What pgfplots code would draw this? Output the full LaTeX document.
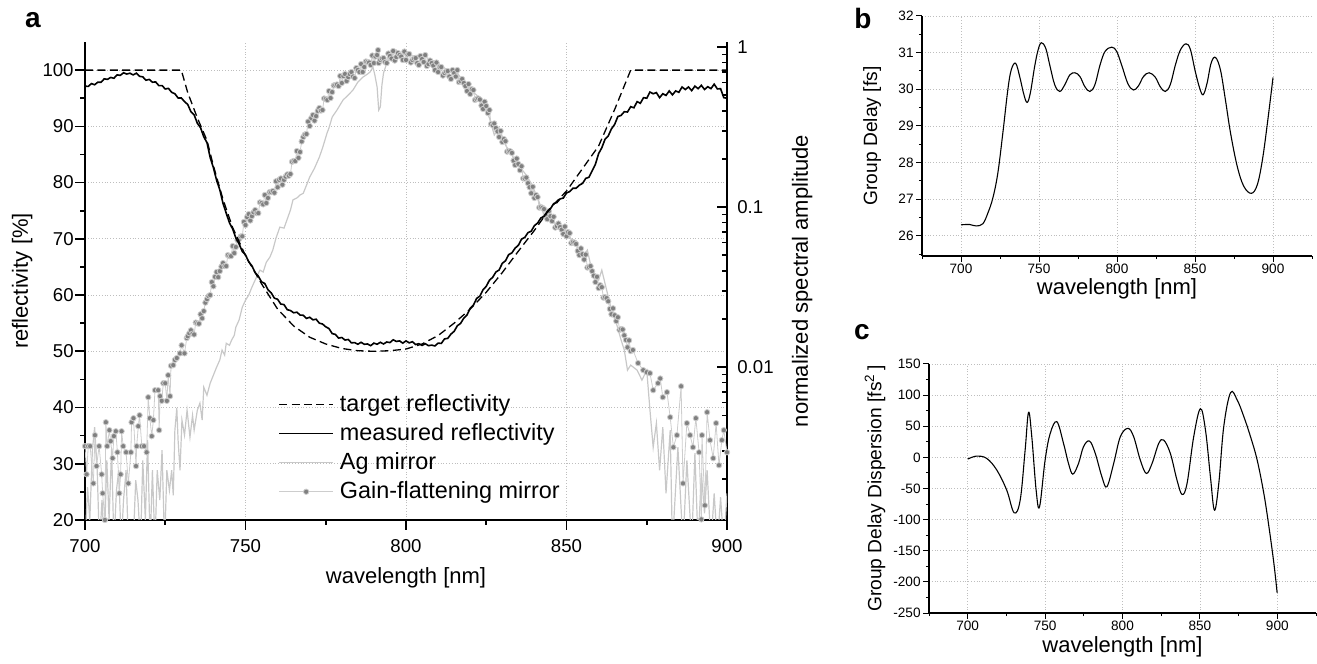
\documentclass[border=0pt]{standalone}
\usepackage{fontspec}
\setmainfont{Liberation Sans}
\usepackage{pgfplots}
\pgfplotsset{compat=1.18}

\definecolor{agc}{RGB}{200,200,200}
\definecolor{gfdot}{RGB}{128,128,128}
\definecolor{gfline}{RGB}{205,205,205}
\definecolor{gridc}{RGB}{190,190,190}

\pgfplotsset{
  /pgf/number format/assume math mode=true,
  agstyle/.style={color=agc, line width=0.6pt, mark=none},
  gfstyle/.style={color=gfline, line width=0.4pt, mark=*, mark size=1.35pt,
    mark options={draw=none, fill=gfdot},
    legend image code/.code={
      \draw[mark repeat=2, mark phase=2, ##1] plot coordinates {(0pt,0pt) (13.5pt,0pt) (27pt,0pt)};}},
  panel/.style={
    scale only axis, anchor=south west,
    xmin=675, xmax=925,
    axis x line*=bottom, axis y line*=left,
    axis line style={line width=0.6pt, black},
    xtick={700,750,...,900}, minor xtick={675,725,...,925},
    tick align=outside, major tick length=3pt, minor tick length=1.6pt,
    tick style={line width=0.5pt, black},
    grid=major, major grid style={densely dotted, gridc, line width=0.4pt},
    tick label style={font=\fontsize{6.8}{8}\selectfont},
    xticklabel style={inner sep=1pt},
    yticklabel style={inner sep=1pt},
    xlabel style={font=\fontsize{11}{13}\selectfont, anchor=center},
    ylabel style={font=\fontsize{9.6}{11}\selectfont, anchor=center},
  },
}

\begin{document}
\begin{tikzpicture}
\path (0pt,0pt) rectangle (658.5pt,-331.5pt);

% ---- panel a, right axis: spectral amplitudes (log) ----
\begin{axis}[
  set layers,
  at={(42.5pt,-260pt)}, anchor=south west,
  scale only axis, width=321pt, height=239pt,
  xmin=700, xmax=900, ymode=log, ymin=0.00111, ymax=1.075,
  axis x line=none, axis y line*=right,
  axis line style={line width=1pt, black},
  ytick={0.01,0.1,1}, yticklabels={0.01,0.1,1},
  minor ytick={0.002,0.003,0.004,0.005,0.006,0.007,0.008,0.009,
               0.02,0.03,0.04,0.05,0.06,0.07,0.08,0.09,
               0.2,0.3,0.4,0.5,0.6,0.7,0.8,0.9},
  tick align=inside, major tick length=5pt, minor tick length=2.5pt,
  tick style={line width=0.8pt, black},
  yticklabel style={font=\fontsize{9.3}{11}\selectfont, inner sep=0pt, xshift=5pt},
  ylabel={normalized spectral amplitude},
  ylabel style={font=\fontsize{11}{13}\selectfont, at={(axis description cs:1.117,0.5)}, anchor=center},
]
% Ag mirror
\addplot[agstyle] coordinates {
(700.0,0.00077)(700.8,0.00178)(701.5,0.00111)(702.3,0.00303)(703.0,0.00422)(703.8,0.00227)
(704.5,0.00077)(705.3,0.00148)(706.0,0.00077)(706.8,0.00262)(707.5,0.00111)(708.3,0.00312)
(709.0,0.00077)(709.8,0.00170)(710.5,0.00227)(711.3,0.00077)(712.0,0.00148)(712.8,0.00227)
(713.5,0.00077)(714.3,0.00111)(715.0,0.00077)(715.8,0.00197)(716.5,0.00148)(717.3,0.00077)
(718.0,0.00262)(718.8,0.00111)(719.5,0.00350)(720.3,0.00077)(721.0,0.00227)(721.8,0.00077)
(722.5,0.00227)(723.3,0.00148)(724.0,0.00303)(724.8,0.00077)(725.5,0.00227)(726.3,0.00170)
(727.0,0.00227)(727.5,0.00158)(728.0,0.00404)(728.6,0.00555)(729.0,0.00350)(729.6,0.00227)
(730.2,0.00467)(731.0,0.00376)(731.8,0.00539)(732.7,0.00365)(733.5,0.00501)(734.0,0.00404)
(735.0,0.00539)(735.8,0.00596)(736.5,0.00467)(737.0,0.00750)(738.0,0.00668)(739.0,0.00794)
(740.0,0.00891)(741.0,0.0100)(742.0,0.0111)(742.7,0.0128)(743.5,0.0119)(744.0,0.0141)
(745.0,0.0137)(745.7,0.0148)(746.5,0.0158)(747.0,0.0178)(748.0,0.0197)(749.0,0.0237)
(750.0,0.0262)(751.0,0.0282)(752.0,0.0316)(753.0,0.0350)(754.5,0.0404)(755.5,0.0393)
(756.5,0.0453)(757.6,0.0487)(758.5,0.0539)(759.5,0.0640)(760.7,0.0750)(762.0,0.0739)
(762.9,0.0830)(764.0,0.0958)(764.8,0.111)(766.0,0.114)(767.0,0.119)(768.0,0.122)
(769.0,0.137)(770.0,0.154)(771.5,0.175)(773.0,0.205)(774.0,0.234)(775.4,0.290)
(776.0,0.312)(777.0,0.365)(778.5,0.404)(780.4,0.467)(782.0,0.501)(783.5,0.539)
(785.0,0.604)(786.6,0.649)(788.0,0.678)(788.8,0.698)(789.7,0.750)(790.3,0.668)
(791.0,0.562)(791.5,0.404)(792.0,0.422)(792.5,0.579)(793.0,0.688)(794.0,0.794)
(795.0,0.853)(797.0,0.957)(798.5,0.891)(800.0,0.917)(802.0,0.879)(804.4,0.891)
(806.0,0.866)(808.0,0.830)(810.0,0.794)(812.0,0.739)(814.0,0.698)(816.0,0.688)
(818.0,0.604)(820.0,0.539)(822.0,0.501)(824.0,0.447)(826.0,0.360)(827.5,0.282)
(829.0,0.312)(831.0,0.244)(833.0,0.211)(835.0,0.183)(837.0,0.163)(839.0,0.141)
(841.0,0.114)(843.0,0.0891)(845.0,0.0853)(847.0,0.0772)(849.0,0.0739)(851.0,0.0649)
(853.0,0.0579)(855.0,0.0487)(856.5,0.0539)(858.0,0.0393)(860.0,0.0350)(861.0,0.0404)
(862.5,0.0303)(864.0,0.0227)(865.7,0.0183)(867.0,0.0148)(868.0,0.0128)(869.0,0.00958)
(870.0,0.0103)(872.0,0.00958)(873.5,0.0083)(875.0,0.00958)(876.0,0.00539)(877.0,0.00316)
(878.0,0.00447)(879.0,0.00227)(880.0,0.00422)(881.0,0.00163)(882.3,0.00404)(883.0,0.00077)
(884.7,0.00316)(886.3,0.00077)(887.5,0.00262)(889.0,0.00077)(890.0,0.00290)(891.0,0.00077)
(892.0,0.00218)(893.0,0.00122)(893.8,0.00227)(895.0,0.00077)(896.0,0.00163)(897.0,0.00077)
(898.0,0.00154)(899.0,0.00077)(900.0,0.00163)
};
% Gain-flattening mirror
\addplot[gfstyle] coordinates {
(700.0,0.00321)(700.5,0.00214)(701.0,0.00321)(701.6,0.00321)(702.6,0.00188)(703.1,0.00376)
(703.6,0.00241)(704.4,0.00321)(705.2,0.00214)(705.5,0.00163)(706.2,0.00111)(706.5,0.00453)
(706.9,0.00321)(707.6,0.00404)(708.0,0.00345)(708.6,0.00270)(709.0,0.00371)(709.6,0.00398)
(710.1,0.00294)(710.7,0.00163)(711.1,0.00214)(711.4,0.00398)(711.9,0.00321)(712.8,0.00294)
(713.5,0.00188)(714.3,0.00294)(714.5,0.00453)(715.1,0.00480)(715.9,0.00241)(716.1,0.00321)
(716.6,0.00428)(717.0,0.00501)(717.7,0.00321)(718.4,0.00321)(719.2,0.00294)(719.7,0.00649)
(720.2,0.00480)(720.8,0.00371)(721.3,0.00467)(721.8,0.00718)(722.8,0.00718)(723.1,0.00404)
(723.4,0.00659)(723.9,0.00616)(724.4,0.00794)(725.0,0.00794)(725.5,0.00616)(725.9,0.00891)
(726.5,0.00659)(726.8,0.0102)(727.5,0.0103)(728.0,0.0111)(728.6,0.0114)(729.6,0.0122)
(730.1,0.0137)(731.0,0.0122)(731.7,0.0152)
(732,0.0156)(732.5,0.0163)(733,0.0170)(733.5,0.0162)(734,0.0160)(734.5,0.0190)
(735,0.0188)(735.5,0.0187)(736,0.0214)(736.5,0.0202)(737,0.0224)(737.5,0.0253)
(738,0.0266)(738.5,0.0278)(739,0.0282)(739.5,0.0340)(740,0.0320)(740.5,0.0367)
(741,0.0393)(741.5,0.0365)(742,0.0398)(742.5,0.0425)(743,0.0447)(743.5,0.0428)
(744,0.0428)(744.5,0.0501)(745,0.0494)(745.5,0.0494)(746,0.0571)(746.5,0.0516)
(747,0.0563)(747.5,0.0622)(748,0.0631)(748.5,0.0655)(749,0.0657)(749.5,0.0808)
(750,0.0772)(750.5,0.0866)(751,0.0904)(751.5,0.0824)(752,0.0878)(752.5,0.0929)
(753,0.0958)(753.5,0.0917)(754,0.0917)(754.5,0.107)(755,0.106)(755.5,0.104)
(756,0.119)(756.5,0.106)(757,0.114)(757.5,0.124)(758,0.124)(758.5,0.126)
(759,0.123)(759.5,0.145)(760,0.133)(760.5,0.148)(761,0.151)(761.5,0.138)
(762,0.148)(762.5,0.155)(763,0.160)(763.5,0.157)(764,0.161)(764.5,0.192)
(765,0.194)(765.5,0.194)(766,0.224)(766.5,0.203)(767,0.221)(767.5,0.257)
(768,0.274)(768.5,0.284)(769,0.286)(769.5,0.342)(770,0.321)(770.5,0.360)
(771,0.376)(771.5,0.347)(772,0.370)(772.5,0.399)(773,0.416)(773.5,0.401)
(774,0.404)(774.5,0.477)(775,0.473)(775.5,0.467)(776,0.531)(776.5,0.480)
(777,0.523)(777.5,0.575)(778,0.579)(778.5,0.583)(779,0.570)(779.5,0.659)
(780,0.596)(780.5,0.659)(781,0.678)(781.5,0.613)(782,0.649)(782.5,0.678)
(783,0.698)(783.5,0.654)(784,0.640)(784.5,0.739)(785,0.718)(785.5,0.698)
(786,0.783)(786.5,0.698)(787,0.750)(787.5,0.812)(788,0.806)(788.5,0.800)
(789,0.772)(789.5,0.885)(790,0.794)(790.5,0.872)(791,0.891)(791.3,0.957)
(791.5,0.794)(792,0.830)(792.5,0.847)(793,0.853)(793.5,0.806)(794,0.794)
(794.5,0.911)(795,0.879)(795.5,0.847)(796,0.944)(796.5,0.823)(797,0.866)
(797.5,0.917)(798,0.891)(798.5,0.872)(799,0.830)(799.5,0.937)(800,0.830)
(800.5,0.898)(801,0.904)(801.5,0.800)(802,0.830)(802.5,0.847)(803,0.853)
(803.5,0.794)(804,0.772)(804.5,0.879)(805,0.841)(805.5,0.806)(806,0.891)
(806.5,0.761)(807,0.783)(807.5,0.823)(808,0.794)(808.5,0.766)(809,0.718)
(809.5,0.800)(810,0.698)(810.5,0.750)(811,0.750)(811.5,0.663)(812,0.688)
(812.5,0.703)(813,0.708)(813.5,0.654)(814,0.631)(814.5,0.718)(815,0.688)
(815.5,0.654)(816,0.718)(816.5,0.604)(817,0.613)(817.5,0.631)(818,0.596)
(818.5,0.570)(819,0.531)(819.5,0.587)(820,0.508)(820.5,0.545)(821,0.539)
(821.5,0.467)(822,0.473)(822.5,0.477)(823,0.470)(823.5,0.431)(824,0.410)
(824.5,0.455)(825,0.428)(825.5,0.387)(826,0.404)(826.5,0.330)(827,0.325)
(827.5,0.333)(828,0.312)(828.5,0.297)(829,0.274)(829.5,0.299)(830,0.255)
(830.5,0.266)(831,0.258)(831.5,0.222)(832,0.224)(832.5,0.223)(833,0.218)
(833.5,0.195)(834,0.183)(834.5,0.201)(835,0.186)(835.5,0.170)(836,0.180)
(836.5,0.151)(837,0.151)(837.5,0.153)(838,0.141)(838.5,0.133)(839,0.122)
(839.5,0.134)(840,0.114)(840.5,0.119)(841,0.1155)(841.5,0.0993)(842,0.0999)
(842.5,0.099)(843,0.0972)(843.5,0.0884)(844,0.0841)(844.5,0.0943)(845,0.0878)
(845.5,0.0818)(846,0.087)(846.5,0.0745)(847,0.0761)(847.5,0.0790)(848,0.0750)
(848.5,0.0723)(849,0.0679)(849.5,0.0756)(850,0.0657)(850.5,0.0698)(851,0.0688)
(851.5,0.0596)(852,0.0604)(852.5,0.0600)(853,0.0588)(853.5,0.0532)(854,0.0501)
(854.5,0.0552)(855,0.0508)(855.5,0.0470)(856,0.0505)(856.5,0.0419)(857,0.0422)
(857.5,0.0428)(858,0.0398)(858.5,0.0373)(859,0.0340)(859.5,0.0367)(860,0.0312)
(860.5,0.0325)(861,0.0316)(861.5,0.0272)(862,0.0274)(862.5,0.0270)(863,0.0258)
(863.5,0.0231)(864,0.0214)(864.5,0.0233)(865,0.0211)(865.5,0.0194)(866,0.0205)
(866.5,0.0171)(867,0.0173)(867.5,0.0172)(868,0.0158)(868.5,0.0148)(869,0.0133)
(869.5,0.0147)(870,0.0126)
(870.7,0.0128)(872.3,0.0106)(873.9,0.00958)(875,0.0093)(876,0.00917)(877,0.00718)
(878.5,0.00794)(879.2,0.0085)(880,0.00649)(881.3,0.00698)(882.3,0.00487)(883.3,0.00316)
(884.4,0.00376)(885.7,0.00760)(886.3,0.00188)(887.5,0.00447)(888.5,0.00376)(889.4,0.00316)
(890.3,0.00480)(891.3,0.00294)(892.0,0.00112)(892.2,0.00376)(893.1,0.00137)(893.8,0.00523)
(894.7,0.00350)(895.7,0.00270)(896.6,0.00447)(897.5,0.00244)(898.4,0.00350)(899,0.00404)
(900,0.00294)
};
\end{axis}

% ---- panel a, left axis: reflectivity ----
\begin{axis}[
  set layers,
  at={(42.5pt,-260pt)}, anchor=south west,
  scale only axis, width=321pt, height=239pt,
  xmin=700, xmax=900, ymin=20, ymax=105,
  axis x line*=bottom, axis y line*=left,
  axis line style={line width=1pt, black},
  xtick={700,750,...,900}, ytick={20,30,...,100},
  minor x tick num=1, minor y tick num=1,
  tick align=outside, major tick length=5pt, minor tick length=2.5pt,
  tick style={line width=0.8pt, black},
  grid=major, major grid style={densely dotted, gridc, line width=0.4pt},
  tick label style={font=\fontsize{9.3}{11}\selectfont},
  xticklabel style={inner sep=0pt, yshift=-4.5pt},
  yticklabel style={inner sep=0pt, xshift=-0.5pt},
  xlabel={wavelength [nm]}, ylabel={reflectivity [\%]},
  xlabel style={font=\fontsize{11}{13}\selectfont, at={(axis description cs:0.5,-0.121)}, anchor=center},
  ylabel style={font=\fontsize{11}{13}\selectfont, at={(axis description cs:-0.098,0.5)}, anchor=center},
  legend cell align=left,
  legend image code/.code={\draw[#1] (0pt,0pt) -- (27pt,0pt);},
  legend style={at={(rel axis cs:0.3006,0.268)}, anchor=north west, draw=none, fill=none,
    inner sep=0pt, row sep=2.6pt, font=\fontsize{11.7}{13}\selectfont,
    nodes={inner xsep=3pt, inner ysep=1pt}},
]
% target reflectivity
\addplot[black, line width=0.65pt, dash pattern=on 4pt off 2.2pt] coordinates {
(700,100)(730,100)(732,96)(735,91.5)(738,87.5)(740,83)(743,77)(746,72)(750,67)
(755,62)(760,57.5)(765,54.5)(770,52.5)(775,51.3)(780,50.5)(785,50.1)(790,50)
(795,50.1)(800,50.4)(805,51.3)(810,52.8)(815,55)(820,57.5)(825,60.5)(830,64)
(835,67.8)(840,71.5)(845,75.5)(850,78.5)(855,82.5)(860,86.5)(865,93)(870,100)(900,100)
};
% measured reflectivity
\addplot[black, line width=0.8pt] coordinates {
(700,97.15)(701,97.1)(702,97.6)(703,97.4)(704,97.85)(705,97.85)(706,98.45)(707,98.35)(708,98.7)(709,98.55)
(710,99.15)(711,99.07)(712,99.53)(713,99.3)(714,99.45)(715,99.15)(716,99.45)(717,98.9)(718,98.8)(719,98.2)
(720,98.35)(721,97.85)(722,97.9)(723,97.25)(724,97.25)(725,96.65)(726,96.75)(727,96.05)(728,95.8)(729,95.05)
(730,95.05)(731,94.4)(732,93.9)(733,92.6)(734,92.05)(735,90.55)(736,89.75)(737,88.15)(738,87.1)(739,84.45)
(740,82.65)(741,80.4)(742,78.7)(743,76.3)(744,74.55)(745,72.85)(746,71.75)(747,70.15)(748,69.1)(749,67.75)
(750,67.15)(751,65.9)(752,65.2)(753,64.0)(754,63.35)(755,62.35)(756,62.05)(757,60.95)(758,60.4)(759,59.45)
(760,59.25)(761,58.4)(762,58.3)(763,57.4)(764,57.25)(765,56.85)(766,56.95)(767,56.45)(768,56.4)(769,55.85)
(770,56.05)(771,55.6)(772,55.7)(773,55.0)(774,54.85)(775,54.35)(776,54.05)(777,53.15)(778,53.0)(779,52.35)
(780,52.45)(781,52.0)(782,52.1)(783,51.5)(784,51.55)(785,51.25)(786,51.6)(787,51.25)(788,51.3)(789,51.0)
(790,51.45)(791,51.25)(792,51.6)(793,51.3)(794,51.65)(795,51.55)(796,52.05)(797,51.75)(798,51.85)(799,51.45)
(800,51.85)(801,51.5)(802,51.7)(803,51.2)(804,51.35)(805,51.05)(806,51.35)(807,51.0)(808,51.1)(809,50.95)
(810,51.45)(811,51.4)(812,52.2)(813,52.3)(814,53.05)(815,53.55)(816,54.55)(817,54.95)(818,55.9)(819,56.45)
(820,57.65)(821,58.2)(822,59.4)(823,59.8)(824,60.95)(825,61.55)(826,62.65)(827,63.15)(828,64.1)(829,64.45)
(830,65.65)(831,66.1)(832,67.2)(833,67.5)(834,68.35)(835,68.85)(836,69.95)(837,70.25)(838,71.1)(839,71.35)
(840,72.35)(841,72.8)(842,73.7)(843,74.0)(844,74.85)(845,75.35)(846,76.25)(847,76.45)(848,77.1)(849,77.25)
(850,78.15)(851,78.4)(852,79.0)(853,79.0)(854,79.55)(855,79.85)(856,80.75)(857,80.95)(858,82.1)(859,83.25)
(860,85.15)(861,86.2)(862,87.7)(863,88.3)(864,89.55)(865,90.35)(866,91.75)(867,91.95)(868,92.6)(869,92.55)
(870,93.5)(871,93.3)(872,94.4)(873,94.1)(874,95.1)(875,95.0)(876,96.1)(877,95.8)(878,96.0)(879,95.1)
(880,95.8)(881,95.5)(882,96.3)(883,95.6)(884,96.3)(885,96.05)(886,97.0)(887,96.55)(888,97.0)(889,96.35)
(890,97.15)(891,96.7)(892,97.3)(893,96.55)(894,97.05)(895,96.7)(896,97.5)(897,96.65)(898,96.7)(899,95.1)
(900,95.0)
};
\addlegendimage{agstyle}
\addlegendimage{gfstyle}
\legend{target reflectivity, measured reflectivity, Ag mirror, Gain-flattening mirror}
\end{axis}

% ---- panel b: group delay ----
\begin{axis}[
  panel, at={(461pt,-128pt)}, width=195pt, height=120pt,
  ymin=25.45, ymax=32, ytick={26,27,...,32}, minor ytick={25.5,26.5,...,31.5},
  xlabel={wavelength [nm]}, ylabel={Group Delay [fs]},
  xlabel style={at={(axis description cs:0.5,-0.1375)}},
  ylabel style={at={(axis description cs:-0.128,0.5)}},
]
\addplot[black, line width=0.55pt, smooth, tension=0.6] coordinates {
(700,26.30)(705.4,26.31)(709.7,26.27)(714,26.33)(717.2,26.62)(720.4,27.03)(723.6,27.71)
(726.8,28.8)(730,29.98)(732.2,30.53)(735,30.71)(737.6,30.35)(740.1,29.89)(742.3,29.64)
(744.4,29.89)(747.2,30.62)(749.4,31.07)(751.5,31.27)(754.3,31.12)(756.9,30.66)(760.1,30.12)
(763.3,29.94)(766.5,30.12)(769.7,30.39)(773,30.45)(776.2,30.35)(779.4,30.07)(782.6,29.94)
(785.8,30.12)(789.1,30.66)(792.3,31.03)(796.6,31.15)(799.8,31.03)(803,30.66)(806.9,30.16)
(810.5,29.98)(813.7,30.09)(817,30.35)(820.6,30.45)(824.5,30.33)(827.7,30.07)(830.9,29.94)
(834.1,30.12)(837.4,30.66)(840.6,31.07)(844.2,31.24)(847,31.09)(850.2,30.48)(853,30.03)
(855.2,29.85)(857.7,30.16)(860.3,30.71)(863.1,30.87)(866.3,30.53)(869.5,29.71)(872.8,28.8)
(877.1,27.89)(881.3,27.35)(886.1,27.16)(889.9,27.39)(893.2,28.07)(896.4,29.07)(900,30.32)
};
\end{axis}

% ---- panel c: group delay dispersion ----
\begin{axis}[
  panel, at={(464.5pt,-306.5pt)}, width=193.5pt, height=124.5pt,
  ymin=-250, ymax=150, ytick={-250,-200,...,150}, minor y tick num=1,
  xlabel={wavelength [nm]}, ylabel={Group Delay Dispersion [fs\textsuperscript{2}\,]},
  xlabel style={at={(axis description cs:0.5,-0.1365)}},
  ylabel style={at={(axis description cs:-0.1395,0.5)}},
]
\addplot[black, line width=0.55pt, smooth, tension=0.6] coordinates {
(700,-2.8)(705.8,2.1)(712.3,-1.7)(718.8,-20.4)(725.2,-52.6)(730,-89)(733.9,-68.7)
(737.1,11.7)(739.3,72.3)(741.4,33.2)(744.2,-52.6)(746.4,-79.4)(750,-4.4)(753.3,38.5)
(757.6,57.3)(761.9,22.4)(765.1,-9.7)(767.9,-26.9)(771.6,-9.7)(774.8,17.1)(778.7,26.2)
(782.4,6.4)(786.7,-31.2)(789.9,-47.2)(794.3,-9.7)(798.6,33.2)(803.5,46.6)(807.2,33.2)
(811.5,-4.4)(815.4,-25.8)(819.1,-9.7)(823.4,22.4)(826.6,27.8)(830.9,6.4)(835.2,-36.5)
(838.5,-59.6)(841.7,-41.9)(846,33.2)(850.3,78.2)(853.6,43.9)(856.8,-31.2)(859.4,-84.8)
(862.2,-41.9)(865.4,49.3)(869.8,104)(874.1,92.1)(878.4,65.3)(882.7,33.2)(887,-4.4)
(891.3,-58)(894.6,-111.6)(897.8,-170.5)(899.9,-217.7)
};
\end{axis}

\node[font=\bfseries\fontsize{14}{16}\selectfont] at (16.5pt,-10pt) {a};
\node[font=\bfseries\fontsize{14}{16}\selectfont] at (431.5pt,-9pt) {b};
\node[font=\bfseries\fontsize{14}{16}\selectfont] at (431pt,-166pt) {c};
\end{tikzpicture}
\end{document}
